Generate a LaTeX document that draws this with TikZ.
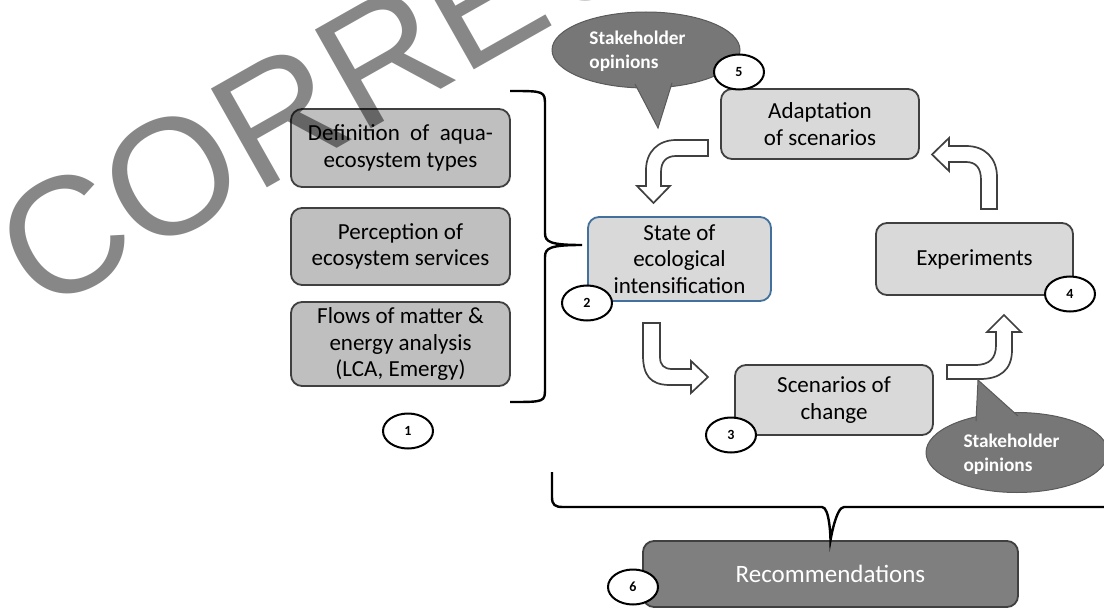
\documentclass[tikz,border=0pt]{standalone}
\usepackage{fontspec}
\setmainfont{Carlito}
\newfontfamily\markfont{Liberation Sans}
\usetikzlibrary{shapes.geometric}
\definecolor{srcgray}{HTML}{BFBFBF}
\definecolor{cycgray}{HTML}{D9D9D9}
\definecolor{boxline}{HTML}{404040}
\definecolor{stateline}{HTML}{41719C}
\definecolor{bubgray}{HTML}{777777}
\definecolor{bubline}{HTML}{5A5A5A}
\definecolor{recgray}{HTML}{7F7F7F}
\tikzset{
  srcbox/.style={draw=boxline,fill=srcgray,rounded corners=11pt,line width=1.8pt,align=center,
    inner sep=0pt,font=\fontsize{23}{26.5}\selectfont},
  cycbox/.style={srcbox,fill=cycgray},
  numtag/.style={draw,ellipse,fill=white,line width=2pt,minimum width=50pt,minimum height=35pt,
    inner sep=0pt,font=\fontsize{14}{14}\selectfont\bfseries},
  bubble/.style={fill=bubgray,draw=bubline,line width=1pt},
  bubtext/.style={align=left,text=white,inner sep=0pt,font=\fontsize{19.3}{24}\selectfont\bfseries},
  bentarrow/.style={draw=boxline,fill=white,line width=1.7pt,line join=miter},
  bracepath/.style={draw=black,line width=2.4pt}
}
\begin{document}
\begin{tikzpicture}[x=1pt,y=-1pt]
\useasboundingbox (0,0) rectangle (1104,610);
% step 1
\node[srcbox,minimum width=219pt,minimum height=78pt](defA) at (400.5,148){Definition~ of~ aqua-\\ecosystem types};
\node[srcbox,minimum width=219pt,minimum height=77pt](defB) at (400.5,246.5){Perception of\\ecosystem services};
\node[srcbox,minimum width=219pt,minimum height=84pt](defC) at (400.5,344){Flows of matter \&\\energy analysis\\(LCA, Emergy)};
\coordinate (brTop) at (510,91);
\coordinate (brBot) at (510,402);
\coordinate (brTip) at (582,245);
\draw[bracepath](brTop) .. controls (545,91) and (545,91) .. (545,106) -- (545,233)
  .. controls (545,242) and (550,245) .. (brTip) .. controls (550,245) and (545,248) .. (545,257)
  -- (545,388) .. controls (545,402) and (545,402) .. (brBot);
% cycle
\node[cycbox,draw=stateline,minimum width=183pt,minimum height=84pt](state) at (679.5,259){State of\\ecological\\intensification};
\node[cycbox,minimum width=198pt,minimum height=70pt](scen) at (834,400){Scenarios of\\change};
\node[cycbox,minimum width=197pt,minimum height=72pt](exper) at (974.5,259){Experiments};
\node[cycbox,minimum width=198pt,minimum height=70pt](adapt) at (820,124){Adaptation\\of scenarios};
% bent arrows
\draw[bentarrow](708,140) -- (676,140) .. controls (658,140) and (646,152) .. (646,170) -- (646,186)
  -- (637,186) -- (653.5,203) -- (670,186) -- (661,186) -- (661,172) .. controls (661,162) and (666,156) .. (676,156)
  -- (708,156) -- cycle;
\draw[bentarrow](643,323) -- (643,355) .. controls (643,375) and (650,385) .. (670,385) -- (691,385)
  -- (691,393) -- (708,377) -- (691,361) -- (691,369) -- (672,369) .. controls (664,369) and (660,365) .. (660,357)
  -- (660,323) -- cycle;
\draw[bentarrow](947,365) -- (975,365) .. controls (990,365) and (996,358) .. (996,345) -- (996,332)
  -- (987,332) -- (1004,315) -- (1021,332) -- (1012,332) -- (1012,350) .. controls (1012,370) and (1000,379) .. (980,379)
  -- (947,379) -- cycle;
\draw[bentarrow](981,209) -- (981,180) .. controls (981,168) and (976,162) .. (966,162) -- (949,162)
  -- (949,171) -- (932,154.5) -- (949,138) -- (949,146) -- (966,146) .. controls (985,146) and (997,158) .. (997,177)
  -- (997,209) -- cycle;
% stakeholder opinions
\node[bubble,ellipse,minimum width=188pt,minimum height=76pt](opTop) at (646,50){};
\path[bubble](635,84) -- (658,128) -- (672,83);
\node[bubtext](opTopTxt) at (637.5,51){Stakeholder\\opinions};
\node[bubble,ellipse,minimum width=182pt,minimum height=80pt](opBot) at (1017,452.5){};
\path[bubble](976,421) -- (978,380) -- (1018,416);
\node[bubtext](opBotTxt) at (1011.5,454.5){Stakeholder\\opinions};
% step 6
\node[srcbox,fill=recgray,text=white,font=\fontsize{25}{30}\selectfont,minimum width=375pt,minimum height=66pt](recom) at (830.5,574){Recommendations};
\draw[bracepath](552,472) -- (552,497) .. controls (552,505) and (555,507) .. (563,507) -- (822,507)
  .. controls (830,507) and (recom.north) .. (recom.north) .. controls (recom.north) and (836,507) .. (844,507) -- (1110,507);
% numbers
\node[numtag](n1) at (408,431){1};
\node[numtag](n2) at (587,303){2};
\node[numtag](n3) at (731,435){3};
\node[numtag](n4) at (1070,294){4};
\node[numtag](n5) at (739,72){5};
\node[numtag](n6) at (633,587){6};
% watermark
\begin{scope}
\clip (0,0) rectangle (1104,610);
\node[anchor=base west,rotate=29.5,inner sep=0pt,text=black,text opacity=0.47,
  font=\markfont\fontsize{165}{165}\selectfont](mark) at (40,316){CORRECTED};
\end{scope}
\end{tikzpicture}
\end{document}
